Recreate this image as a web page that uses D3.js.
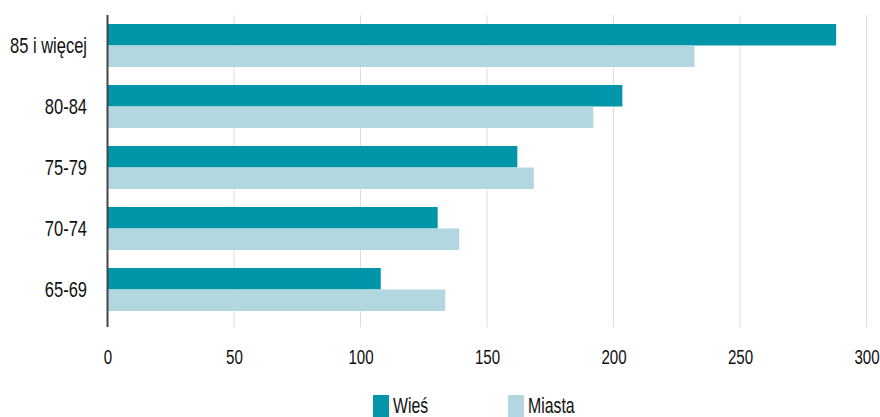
<!DOCTYPE html>
<html>
<head>
<meta charset="utf-8">
<script src="https://cdn.jsdelivr.net/npm/d3@7"></script>
<style>
  html, body { margin: 0; padding: 0; background: #fff; }
  svg text { font-family: "Liberation Sans", Arial, sans-serif; fill: #111; }
</style>
</head>
<body>
<svg id="chart" width="880" height="417"></svg>
<script>
// Age groups, top to bottom
const categories = ["85 i więcej", "80-84", "75-79", "70-74", "65-69"];
const seriesNames = ["Wieś", "Miasta"];
const wiesValues = [288, 203.5, 162, 130.5, 108];
const miastaValues = [232, 192, 168.5, 139, 133.5];
const tickValues = [0, 50, 100, 150, 200, 250, 300];
const colors = ["#0095a8", "#b2d7e1"];

// narrow lettering: regular face squeezed horizontally
const squeeze = 0.75;

const svg = d3.select("#chart");

const x = d3.scaleLinear().domain([0, 300]).range([107.5, 866.5]);
const y = d3.scaleBand().domain(categories).range([15, 320])
  .paddingInner(0.295).paddingOuter(0.1475);
const ySub = d3.scaleBand().domain(seriesNames).range([0, y.bandwidth()]);
const color = d3.scaleOrdinal().domain(seriesNames).range(colors);

const plotTop = 15, plotBottom = 327;

// vertical gridlines
svg.append("g")
  .selectAll("line")
  .data(tickValues.filter(d => d > 0))
  .join("line")
  .attr("x1", d => x(d)).attr("x2", d => x(d))
  .attr("y1", plotTop).attr("y2", plotBottom)
  .attr("stroke", "#dedede").attr("stroke-width", 1);

// bars
const rows = categories.map((c, i) => ({ cat: c, values: [wiesValues[i], miastaValues[i]] }));
svg.append("g")
  .selectAll("g")
  .data(rows)
  .join("g")
  .attr("transform", d => `translate(0,${y(d.cat)})`)
  .selectAll("rect")
  .data(d => seriesNames.map((s, j) => ({ s, v: d.values[j] })))
  .join("rect")
  .attr("x", x(0))
  .attr("y", d => ySub(d.s))
  .attr("width", d => x(d.v) - x(0))
  .attr("height", ySub.bandwidth())
  .attr("fill", d => color(d.s));

// value axis (bottom)
const xAxis = d3.axisBottom(x).tickValues(tickValues).tickSize(0).tickPadding(0);
const gx = svg.append("g").attr("transform", `translate(0,${plotBottom})`).call(xAxis);
gx.select(".domain").remove();
gx.selectAll("text")
  .attr("dy", "0").attr("y", 0)
  .attr("transform", `translate(0,36.5) scale(0.72,1)`)
  .style("font-size", "21px");

// category axis (left)
const yAxis = d3.axisLeft(y).tickSize(0).tickPadding(0);
const gy = svg.append("g").attr("transform", `translate(${x(0)},0)`).call(yAxis);
gy.select(".domain").remove();
gy.selectAll("text")
  .attr("x", 0)
  .attr("transform", `translate(-20.5,0) scale(${squeeze},1)`)
  .style("font-size", "22px");

// baseline
svg.append("line")
  .attr("x1", x(0)).attr("x2", x(0))
  .attr("y1", plotTop).attr("y2", plotBottom)
  .attr("stroke", "#444").attr("stroke-width", 2);

// legend
const legendX = [373, 508];
const lg = svg.append("g")
  .selectAll("g")
  .data(seriesNames)
  .join("g")
  .attr("transform", (d, i) => `translate(${legendX[i]},395)`);
lg.append("rect").attr("width", 16).attr("height", 22).attr("fill", d => color(d));
lg.append("text")
  .attr("transform", `translate(20,18) scale(0.72,1)`)
  .style("font-size", "22px")
  .text(d => d);
</script>
</body>
</html>
